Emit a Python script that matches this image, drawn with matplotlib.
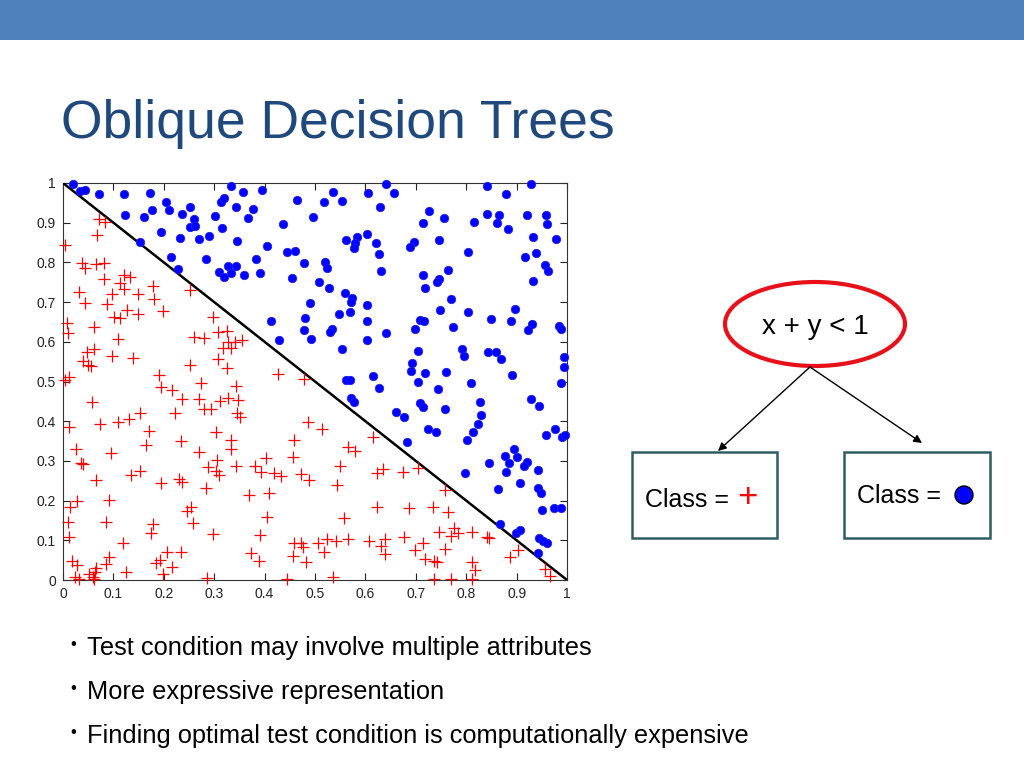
import numpy as np
import matplotlib.pyplot as plt
from matplotlib.patches import Ellipse, Rectangle, Circle

plt.rcParams['font.family'] = ['Liberation Sans', 'DejaVu Sans']

# points (x, y)
blue_points = [
    (0.020, 0.997), (0.034, 0.980), (0.044, 0.982), (0.072, 0.972), (0.121, 0.972),
    (0.173, 0.976), (0.204, 0.952), (0.123, 0.919), (0.161, 0.914), (0.177, 0.932),
    (0.211, 0.931), (0.236, 0.923), (0.251, 0.940), (0.259, 0.909), (0.252, 0.890),
    (0.261, 0.892), (0.195, 0.876), (0.232, 0.861), (0.269, 0.858), (0.289, 0.866),
    (0.302, 0.916), (0.313, 0.953), (0.320, 0.963), (0.315, 0.887), (0.153, 0.852),
    (0.214, 0.814), (0.228, 0.783), (0.283, 0.809), (0.310, 0.777), (0.320, 0.762),
    (0.327, 0.791),
    (0.333, 0.993), (0.358, 0.977), (0.394, 0.982), (0.343, 0.939), (0.376, 0.935),
    (0.368, 0.911), (0.465, 0.958), (0.536, 0.978), (0.518, 0.951), (0.553, 0.955),
    (0.606, 0.976), (0.640, 0.997), (0.657, 0.974), (0.628, 0.940), (0.497, 0.914),
    (0.437, 0.896), (0.345, 0.855), (0.405, 0.841), (0.444, 0.825), (0.460, 0.829),
    (0.382, 0.809), (0.343, 0.792), (0.333, 0.774), (0.359, 0.768), (0.391, 0.773),
    (0.479, 0.799), (0.520, 0.800), (0.523, 0.785), (0.454, 0.761), (0.507, 0.751),
    (0.527, 0.736), (0.562, 0.856), (0.583, 0.865), (0.579, 0.848), (0.577, 0.837),
    (0.604, 0.871), (0.622, 0.850), (0.626, 0.820), (0.631, 0.779), (0.560, 0.724),
    (0.573, 0.711), (0.571, 0.701), (0.491, 0.698), (0.604, 0.692), (0.548, 0.671),
    (0.569, 0.674), (0.604, 0.653), (0.480, 0.659), (0.412, 0.653), (0.478, 0.630),
    (0.534, 0.631), (0.529, 0.624), (0.493, 0.607), (0.428, 0.604), (0.604, 0.604),
    (0.641, 0.621), (0.554, 0.581), (0.561, 0.505), (0.570, 0.505), (0.615, 0.513),
    (0.571, 0.458), (0.577, 0.449), (0.626, 0.484), (0.661, 0.422),
    (0.841, 0.993), (0.929, 0.997), (0.878, 0.972), (0.726, 0.929), (0.715, 0.898),
    (0.755, 0.911), (0.815, 0.902), (0.841, 0.923), (0.866, 0.919), (0.862, 0.898),
    (0.883, 0.884), (0.920, 0.919), (0.958, 0.919), (0.961, 0.896), (0.933, 0.864),
    (0.978, 0.859), (0.696, 0.852), (0.688, 0.838), (0.747, 0.856), (0.804, 0.825),
    (0.917, 0.814), (0.938, 0.823), (0.956, 0.794), (0.963, 0.779), (0.933, 0.752),
    (0.763, 0.782), (0.715, 0.768), (0.746, 0.757), (0.743, 0.751), (0.719, 0.735),
    (0.770, 0.709), (0.749, 0.679), (0.804, 0.674), (0.849, 0.658), (0.896, 0.682),
    (0.888, 0.653), (0.709, 0.656), (0.717, 0.652), (0.698, 0.633), (0.774, 0.638),
    (0.931, 0.645), (0.922, 0.630), (0.984, 0.640), (0.988, 0.631), (0.705, 0.577),
    (0.791, 0.581), (0.795, 0.565), (0.843, 0.574), (0.860, 0.574), (0.869, 0.557),
    (0.994, 0.562), (0.994, 0.536), (0.693, 0.547), (0.691, 0.527), (0.719, 0.521),
    (0.760, 0.524), (0.891, 0.516), (0.705, 0.499), (0.810, 0.497), (0.988, 0.497),
    (0.745, 0.480), (0.708, 0.445), (0.715, 0.437), (0.758, 0.430), (0.827, 0.449),
    (0.829, 0.416), (0.823, 0.392), (0.814, 0.374), (0.802, 0.352), (0.929, 0.457),
    (0.945, 0.439), (0.677, 0.410), (0.724, 0.380), (0.740, 0.374), (0.682, 0.348),
    (0.976, 0.380), (0.958, 0.365), (0.991, 0.359), (0.997, 0.365), (0.894, 0.329),
    (0.876, 0.312), (0.900, 0.309), (0.884, 0.295), (0.921, 0.296), (0.915, 0.287),
    (0.846, 0.295), (0.879, 0.272), (0.943, 0.278), (0.798, 0.269), (0.906, 0.245),
    (0.864, 0.228), (0.943, 0.231), (0.948, 0.218), (0.950, 0.176), (0.975, 0.181),
    (0.989, 0.181), (0.867, 0.141), (0.899, 0.119), (0.906, 0.126), (0.945, 0.106),
    (0.953, 0.099), (0.960, 0.092), (0.943, 0.067),
]

red_points = [
    (0.072, 0.909), (0.083, 0.903), (0.067, 0.869), (0.003, 0.844), (0.037, 0.798),
    (0.044, 0.787), (0.066, 0.795), (0.081, 0.798), (0.081, 0.758), (0.121, 0.768),
    (0.132, 0.763), (0.114, 0.747), (0.121, 0.732), (0.032, 0.725), (0.044, 0.697),
    (0.098, 0.720), (0.087, 0.694), (0.149, 0.721), (0.179, 0.741), (0.181, 0.708),
    (0.198, 0.678), (0.126, 0.680), (0.149, 0.669), (0.101, 0.663), (0.114, 0.659),
    (0.007, 0.647), (0.009, 0.621), (0.062, 0.637), (0.110, 0.606), (0.048, 0.575),
    (0.062, 0.582), (0.098, 0.565), (0.138, 0.560), (0.040, 0.552), (0.050, 0.542),
    (0.055, 0.539), (0.251, 0.730), (0.297, 0.662), (0.259, 0.613), (0.280, 0.610),
    (0.308, 0.625), (0.325, 0.627), (0.318, 0.584), (0.308, 0.556), (0.325, 0.535),
    (0.251, 0.542), (0.190, 0.516), (0.011, 0.512), (0.004, 0.504), (0.273, 0.495),
    (0.328, 0.600), (0.341, 0.600), (0.355, 0.605), (0.333, 0.584), (0.427, 0.519),
    (0.479, 0.506),
    (0.057, 0.449), (0.012, 0.386), (0.073, 0.392), (0.110, 0.397), (0.131, 0.406),
    (0.152, 0.420), (0.171, 0.375), (0.165, 0.340), (0.194, 0.485), (0.217, 0.479),
    (0.236, 0.456), (0.223, 0.420), (0.270, 0.455), (0.280, 0.430), (0.294, 0.430),
    (0.312, 0.452), (0.328, 0.458), (0.304, 0.372), (0.234, 0.350), (0.270, 0.323),
    (0.287, 0.285), (0.306, 0.302), (0.303, 0.275), (0.310, 0.265), (0.284, 0.231),
    (0.026, 0.330), (0.036, 0.295), (0.040, 0.292), (0.095, 0.321), (0.065, 0.253),
    (0.135, 0.265), (0.153, 0.275), (0.194, 0.245), (0.230, 0.254), (0.236, 0.248),
    (0.091, 0.202), (0.028, 0.199), (0.014, 0.185), (0.009, 0.147), (0.011, 0.109),
    (0.086, 0.147), (0.120, 0.093), (0.175, 0.119), (0.179, 0.141), (0.246, 0.175),
    (0.253, 0.184), (0.257, 0.143), (0.298, 0.117), (0.207, 0.070), (0.234, 0.071),
    (0.018, 0.048), (0.028, 0.037), (0.091, 0.059), (0.086, 0.040), (0.066, 0.031),
    (0.064, 0.021), (0.052, 0.014), (0.059, 0.008), (0.023, 0.008), (0.032, 0.002),
    (0.062, 0.003), (0.125, 0.019), (0.185, 0.042), (0.193, 0.050), (0.216, 0.034),
    (0.198, 0.016), (0.285, 0.004),
    (0.344, 0.489), (0.347, 0.453), (0.345, 0.420), (0.352, 0.410), (0.486, 0.398),
    (0.514, 0.380), (0.458, 0.352), (0.333, 0.353), (0.333, 0.330), (0.456, 0.310),
    (0.403, 0.307), (0.343, 0.287), (0.380, 0.287), (0.393, 0.273), (0.419, 0.270),
    (0.432, 0.262), (0.472, 0.267), (0.488, 0.253), (0.550, 0.286), (0.544, 0.239),
    (0.565, 0.336), (0.579, 0.325), (0.615, 0.359), (0.624, 0.270), (0.634, 0.280),
    (0.370, 0.213), (0.409, 0.218), (0.405, 0.159), (0.558, 0.157), (0.624, 0.185),
    (0.391, 0.114), (0.458, 0.092), (0.472, 0.094), (0.477, 0.084), (0.505, 0.092),
    (0.523, 0.103), (0.542, 0.099), (0.565, 0.103), (0.518, 0.070), (0.608, 0.099),
    (0.630, 0.086), (0.639, 0.103), (0.639, 0.065), (0.374, 0.067), (0.388, 0.048),
    (0.456, 0.061), (0.482, 0.045), (0.445, 0.002), (0.536, 0.008),
    (0.675, 0.271), (0.704, 0.283), (0.758, 0.227), (0.687, 0.182), (0.735, 0.185),
    (0.764, 0.171), (0.677, 0.109), (0.715, 0.092), (0.698, 0.076), (0.718, 0.053),
    (0.737, 0.048), (0.742, 0.046), (0.758, 0.078), (0.746, 0.122), (0.776, 0.132),
    (0.783, 0.119), (0.769, 0.111), (0.811, 0.122), (0.841, 0.109), (0.846, 0.107),
    (0.887, 0.059), (0.902, 0.076), (0.811, 0.045), (0.817, 0.025), (0.737, 0.002),
    (0.770, 0.003), (0.811, 0.003), (0.956, 0.027), (0.966, 0.010),
]

boundary_x = [0, 1]
boundary_y = [1, 0]
ticks = [0, 0.1, 0.2, 0.3, 0.4, 0.5, 0.6, 0.7, 0.8, 0.9, 1]
tick_labels = ['0', '0.1', '0.2', '0.3', '0.4', '0.5', '0.6', '0.7', '0.8', '0.9', '1']

title = 'Oblique Decision Trees'
condition = 'x + y < 1'
bullets = [
    'Test condition may involve multiple attributes',
    'More expressive representation',
    'Finding optimal test condition is computationally expensive',
]

fig = plt.figure(figsize=(10.24, 7.68), dpi=100, facecolor='white')

# slide layer, coordinates in pixels (origin top-left)
bg = fig.add_axes([0, 0, 1, 1])
bg.set_xlim(0, 1024)
bg.set_ylim(768, 0)
bg.axis('off')

bg.add_patch(Rectangle((0, 0), 1024, 40, color='#4F81BD', lw=0))
bg.text(61, 138, title, fontsize=38.5, color='#1F497D', va='baseline')

# decision tree sketch
bg.add_patch(Ellipse((815, 324), 180, 84, fill=False, edgecolor='#E8111A', lw=3))
bg.text(815, 327, condition, fontsize=20, ha='center', va='center')
arrow = dict(arrowstyle='-|>', color='black', lw=1, mutation_scale=12,
             shrinkA=0, shrinkB=0)
bg.annotate('', xy=(718, 451), xytext=(810, 367), arrowprops=arrow)
bg.annotate('', xy=(922, 443), xytext=(810, 367), arrowprops=arrow)

box_color = '#2E5E63'
bg.add_patch(Rectangle((632, 452), 145, 86, fill=False, edgecolor=box_color, lw=1.8))
bg.add_patch(Rectangle((844, 452), 146, 86, fill=False, edgecolor=box_color, lw=1.8))
bg.text(645, 507, 'Class = ', fontsize=18, va='baseline')
bg.text(747, 497, '+', fontsize=25, color='#FF0000', ha='center', va='center')
bg.text(857, 503, 'Class = ', fontsize=18, va='baseline')
bg.add_patch(Circle((964, 495), 9, facecolor='#0000FF', edgecolor='black', lw=1))

for i, line in enumerate(bullets):
    base = 655 + 44 * i
    bg.text(70, base - 6, '\u2022', fontsize=12, va='baseline')
    bg.text(87, base, line, fontsize=18.3, va='baseline')

# scatter plot
ax = fig.add_axes([63 / 1024, 188 / 768, 504 / 1024, 397 / 768])
bx, by = np.array(blue_points).T
rx, ry = np.array(red_points).T
ax.plot(boundary_x, boundary_y, color='black', lw=1.8, zorder=3)
ax.plot(bx, by, 'o', ms=6, color='#0000FF', mec='#1a1aff', mew=0.6,
        clip_on=False, zorder=4)
ax.plot(rx, ry, '+', ms=8, mew=0.9, color='#FF0000', clip_on=False, zorder=4)

ax.set_xlim(0, 1)
ax.set_ylim(0, 1)
ax.set_xticks(ticks)
ax.set_xticklabels(tick_labels)
ax.set_yticks(ticks)
ax.set_yticklabels(tick_labels)
ax.tick_params(direction='in', top=True, right=True, length=5, width=0.8,
               labelsize=10, pad=5, colors='#222222')
for s in ax.spines.values():
    s.set_linewidth(0.8)
    s.set_color('#333333')

fig.savefig('out.png', dpi=100, facecolor='white')
